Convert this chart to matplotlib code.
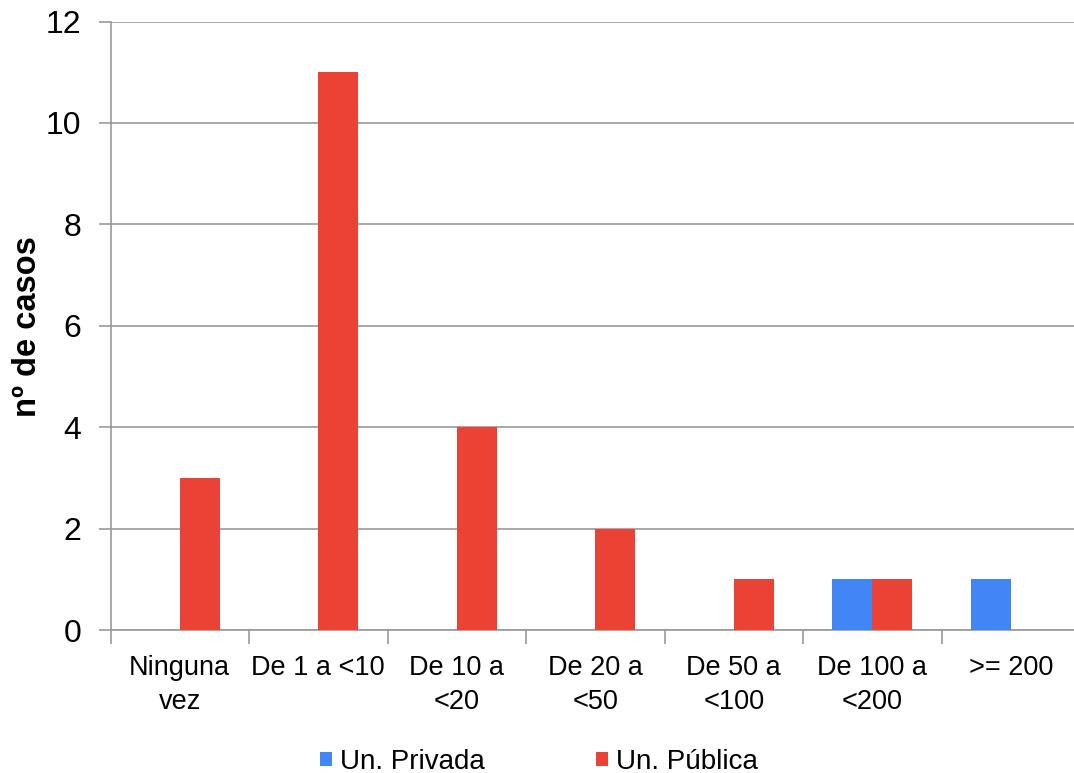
import matplotlib
matplotlib.use("Agg")
import matplotlib.pyplot as plt
import numpy as np

categories = ["Ninguna\nvez", "De 1 a <10", "De 10 a\n<20", "De 20 a\n<50",
              "De 50 a\n<100", "De 100 a\n<200", ">= 200"]
privada = [0, 0, 0, 0, 0, 1, 1]
publica = [3, 11, 4, 2, 1, 1, 0]
series_names = ["Un. Privada", "Un. Pública"]
yticks = [0, 2, 4, 6, 8, 10, 12]

plt.rcParams['font.family'] = ['Liberation Sans', 'DejaVu Sans']

W, H = 1074, 773
fig = plt.figure(figsize=(W / 100, H / 100), dpi=100)
left, right, top, bottom = 110.5, 1080, 21.5, 630
ax = fig.add_axes([left / W, (H - bottom) / H, (right - left) / W, (bottom - top) / H])

x = np.arange(len(categories))
w = 0.289
ax.bar(x - w / 2, privada, w, color="#4285F4", label=series_names[0], zorder=3)
ax.bar(x + w / 2, publica, w, color="#EA4335", label=series_names[1], zorder=3)

ax.set_xlim(-0.5, len(categories) - 0.5)
ax.set_ylim(0, 12)
ax.set_yticks(yticks)
ax.set_yticklabels([str(v) for v in yticks], fontsize=23)
ax.yaxis.grid(True, color="#999999", linewidth=1.2, zorder=0)
ax.tick_params(axis='y', length=9, color="#999999", width=1.2, pad=12)

ax.set_xticks(np.arange(-0.5, len(categories), 1.0))
ax.set_xticklabels([])
ax.tick_params(axis='x', which='major', length=10, color="#999999", width=1.2)
ax.set_xticks(x, minor=True)
ax.set_xticklabels(categories, minor=True, fontsize=19.5, linespacing=1.4)
ax.tick_params(axis='x', which='minor', length=0, pad=18)

for s in ["top", "right"]:
    ax.spines[s].set_visible(False)
for s in ["left", "bottom"]:
    ax.spines[s].set_color("#999999")
    ax.spines[s].set_linewidth(1.2)

fig.text(28 / W, 1 - 327 / H, "nº de casos", fontsize=23.5, fontweight="bold",
         rotation=90, ha="center", va="center")

leg = fig.legend(loc="center", bbox_to_anchor=(539 / W, 1 - 762 / H), ncol=2,
                 frameon=False, fontsize=20, handlelength=0.43, handleheight=0.43,
                 handletextpad=0.3, columnspacing=4.0)

fig.savefig("out.png", dpi=100)
